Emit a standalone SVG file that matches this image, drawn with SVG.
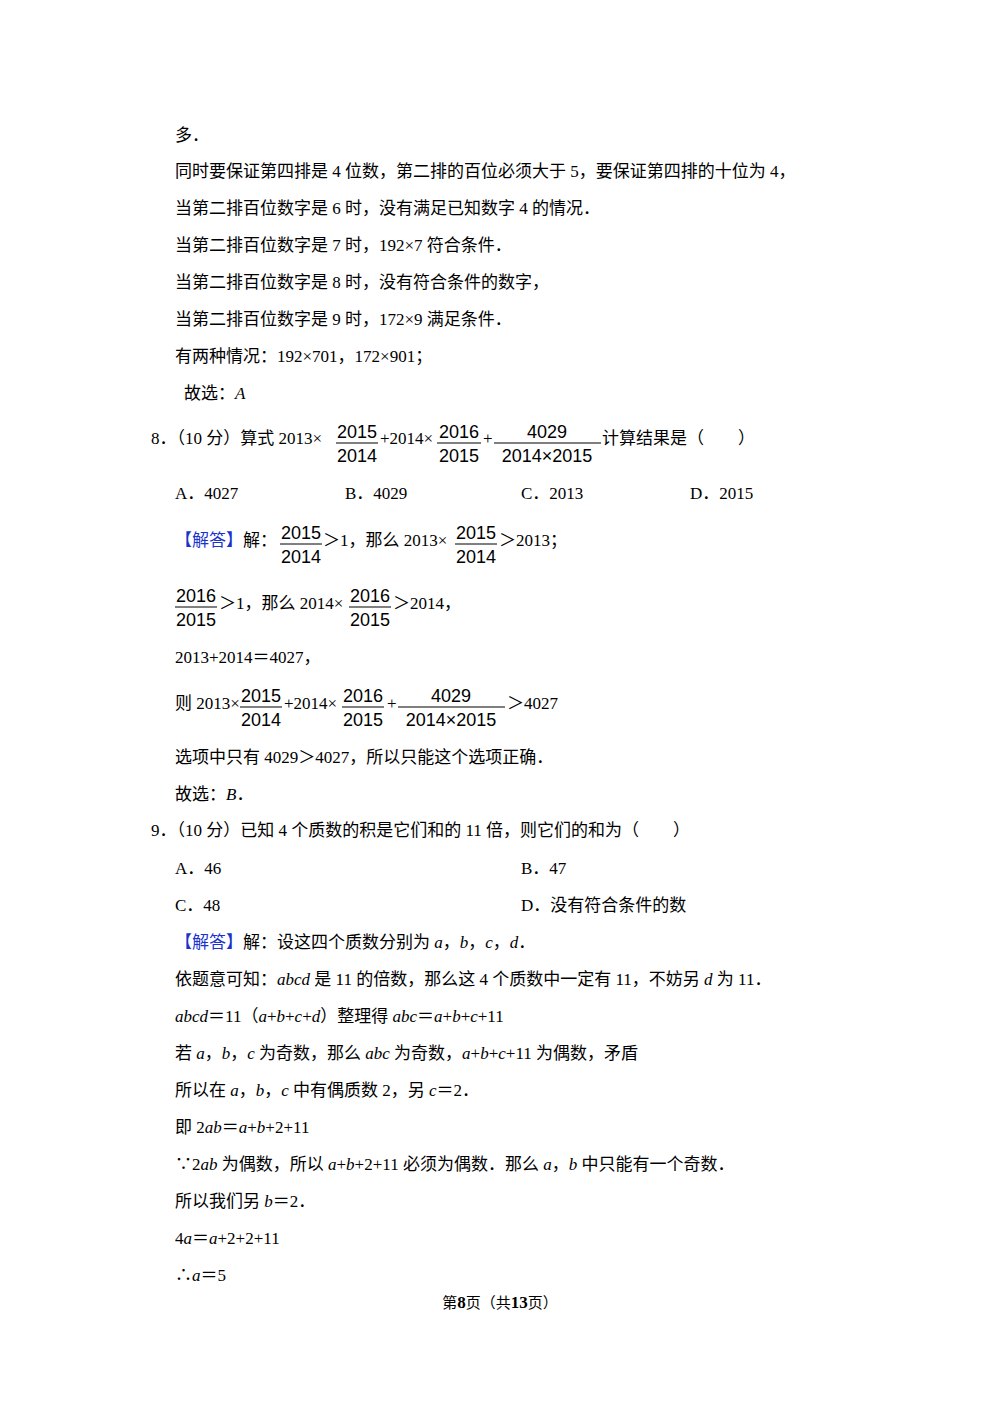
<svg xmlns="http://www.w3.org/2000/svg" width="1000" height="1415" viewBox="0 0 1000 1415">
<style>
text{font-family:"Liberation Serif","Noto Sans CJK SC",serif;font-size:17px;fill:#000}
.f{font-family:"Liberation Sans","Noto Sans CJK SC",sans-serif;font-size:18px}
.i{font-style:italic}
.b{fill:#1a33cc}
line{stroke:#000;stroke-width:1}
</style>
<rect width="1000" height="1415" fill="#fff"/>
<text x="175" y="141">多．</text>
<text x="175" y="177">同时要保证第四排是 4 位数，第二排的百位必须大于  5，要保证第四排的十位为  4，</text>
<text x="175" y="214">当第二排百位数字是 6 时，没有满足已知数字 4 的情况．</text>
<text x="175" y="251">当第二排百位数字是 7 时，192×7 符合条件．</text>
<text x="175" y="288">当第二排百位数字是 8 时，没有符合条件的数字，</text>
<text x="175" y="325">当第二排百位数字是 9 时，172×9 满足条件．</text>
<text x="175" y="362">有两种情况：192×701，172×901；</text>
<text x="184" y="399">故选：<tspan class="i">A</tspan></text>

<text x="151" y="444">8．（10 分）算式 2013×</text>
<text class="f" x="357" y="438" text-anchor="middle">2015</text><line x1="336" y1="443" x2="378" y2="443"/><text class="f" x="357" y="462" text-anchor="middle">2014</text>
<text x="380" y="444">+2014×</text>
<text class="f" x="459" y="438" text-anchor="middle">2016</text><line x1="437" y1="443" x2="481" y2="443"/><text class="f" x="459" y="462" text-anchor="middle">2015</text>
<text x="483" y="444">+</text>
<text class="f" x="547" y="438" text-anchor="middle">4029</text><line x1="494" y1="443" x2="601" y2="443"/><text class="f" x="547" y="462" text-anchor="middle">2014×2015</text>
<text x="602" y="444">计算结果是（　　）</text>

<text x="175" y="499">A．4027</text>
<text x="345" y="499">B．4029</text>
<text x="521" y="499">C．2013</text>
<text x="690" y="499">D．2015</text>

<text x="175" y="546"><tspan class="b">【解答】</tspan>解：</text>
<text class="f" x="301" y="539" text-anchor="middle">2015</text><line x1="280" y1="544" x2="322" y2="544"/><text class="f" x="301" y="563" text-anchor="middle">2014</text>
<text x="323" y="546">＞1，那么 2013×</text>
<text class="f" x="476" y="539" text-anchor="middle">2015</text><line x1="455" y1="544" x2="497" y2="544"/><text class="f" x="476" y="563" text-anchor="middle">2014</text>
<text x="499" y="546">＞2013；</text>

<text class="f" x="196" y="602" text-anchor="middle">2016</text><line x1="175" y1="607" x2="217" y2="607"/><text class="f" x="196" y="626" text-anchor="middle">2015</text>
<text x="219" y="609">＞1，那么 2014×</text>
<text class="f" x="370" y="602" text-anchor="middle">2016</text><line x1="349" y1="607" x2="391" y2="607"/><text class="f" x="370" y="626" text-anchor="middle">2015</text>
<text x="393" y="609">＞2014，</text>

<text x="175" y="663">2013+2014＝4027，</text>

<text x="175" y="709">则 2013×</text>
<text class="f" x="261" y="702" text-anchor="middle">2015</text><line x1="240" y1="707" x2="282" y2="707"/><text class="f" x="261" y="726" text-anchor="middle">2014</text>
<text x="284" y="709">+2014×</text>
<text class="f" x="363" y="702" text-anchor="middle">2016</text><line x1="342" y1="707" x2="384" y2="707"/><text class="f" x="363" y="726" text-anchor="middle">2015</text>
<text x="387" y="709">+</text>
<text class="f" x="451" y="702" text-anchor="middle">4029</text><line x1="398" y1="707" x2="505" y2="707"/><text class="f" x="451" y="726" text-anchor="middle">2014×2015</text>
<text x="507" y="709">＞4027</text>

<text x="175" y="763">选项中只有 4029＞4027，所以只能这个选项正确．</text>
<text x="175" y="800">故选：<tspan class="i">B</tspan>．</text>

<text x="151" y="836">9．（10 分）已知 4 个质数的积是它们和的 11 倍，则它们的和为（　　）</text>
<text x="175" y="874">A．46</text>
<text x="521" y="874">B．47</text>
<text x="175" y="911">C．48</text>
<text x="521" y="911">D．没有符合条件的数</text>
<text x="175" y="948"><tspan class="b">【解答】</tspan>解：设这四个质数分别为 <tspan class="i">a</tspan>，<tspan class="i">b</tspan>，<tspan class="i">c</tspan>，<tspan class="i">d</tspan>．</text>
<text x="175" y="985">依题意可知：<tspan class="i">abcd</tspan> 是 11 的倍数，那么这 4 个质数中一定有 11，不妨另 <tspan class="i">d</tspan> 为 11．</text>
<text x="175" y="1022"><tspan class="i">abcd</tspan>＝11（<tspan class="i">a</tspan>+<tspan class="i">b</tspan>+<tspan class="i">c</tspan>+<tspan class="i">d</tspan>）整理得 <tspan class="i">abc</tspan>＝<tspan class="i">a</tspan>+<tspan class="i">b</tspan>+<tspan class="i">c</tspan>+11</text>
<text x="175" y="1059">若 <tspan class="i">a</tspan>，<tspan class="i">b</tspan>，<tspan class="i">c</tspan> 为奇数，那么 <tspan class="i">abc</tspan> 为奇数，<tspan class="i">a</tspan>+<tspan class="i">b</tspan>+<tspan class="i">c</tspan>+11 为偶数，矛盾</text>
<text x="175" y="1096">所以在 <tspan class="i">a</tspan>，<tspan class="i">b</tspan>，<tspan class="i">c</tspan> 中有偶质数 2，另 <tspan class="i">c</tspan>＝2．</text>
<text x="175" y="1133">即 2<tspan class="i">ab</tspan>＝<tspan class="i">a</tspan>+<tspan class="i">b</tspan>+2+11</text>
<text x="175" y="1170">∵2<tspan class="i">ab</tspan> 为偶数，所以 <tspan class="i">a</tspan>+<tspan class="i">b</tspan>+2+11 必须为偶数．那么 <tspan class="i">a</tspan>，<tspan class="i">b</tspan> 中只能有一个奇数．</text>
<text x="175" y="1207">所以我们另 <tspan class="i">b</tspan>＝2．</text>
<text x="175" y="1244">4<tspan class="i">a</tspan>＝<tspan class="i">a</tspan>+2+2+11</text>
<text x="175" y="1281">∴<tspan class="i">a</tspan>＝5</text>
<text x="500" y="1308" text-anchor="middle" style="font-size:15px">第<tspan style="font-weight:bold;font-size:17px">8</tspan>页（共<tspan style="font-weight:bold;font-size:17px">13</tspan>页）</text>
</svg>
